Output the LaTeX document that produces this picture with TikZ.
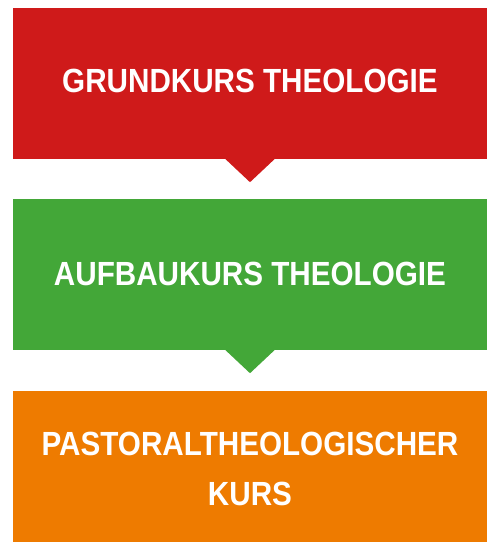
\documentclass[tikz,border=0pt]{standalone}
\usepackage{fontspec}
\setmainfont{Liberation Sans}[FakeStretch=0.885]
\definecolor{kred}{HTML}{CF1A1A}
\definecolor{kgreen}{HTML}{43A738}
\definecolor{korange}{HTML}{EE7B00}
\begin{document}
\begin{tikzpicture}[x=1pt,y=-1pt,
  box/.style={rectangle, draw=none, minimum width=474pt, minimum height=151pt, inner sep=0pt},
  label/.style={text=white, align=center, inner sep=0pt, font=\fontsize{33.5}{50}\selectfont\bfseries}]
\useasboundingbox (0,0) rectangle (500,553);
\fill[white] (0,0) rectangle (500,553);
% boxes
\node[box, fill=kred] (b1) at (250,83.5) {};
\node[box, fill=kgreen] (b2) at (250,274.5) {};
\node[box, fill=korange] (b3) at (250,466.5) {};
% pointers
\fill[kred] ([xshift=-25pt,yshift=0.5pt]b1.south) -- ([xshift=25pt,yshift=0.5pt]b1.south) -- ([yshift=-23pt]b1.south) -- cycle;
\fill[kgreen] ([xshift=-25pt,yshift=0.5pt]b2.south) -- ([xshift=25pt,yshift=0.5pt]b2.south) -- ([yshift=-23pt]b2.south) -- cycle;
% texts
\node[label] (t1) at (250,81) {GRUNDKURS THEOLOGIE};
\node[label] (t2) at (250,273.5) {AUFBAUKURS THEOLOGIE};
\node[label] (t3) at (250,468.5) {PASTORALTHEOLOGISCHER\\KURS};
\end{tikzpicture}
\end{document}
